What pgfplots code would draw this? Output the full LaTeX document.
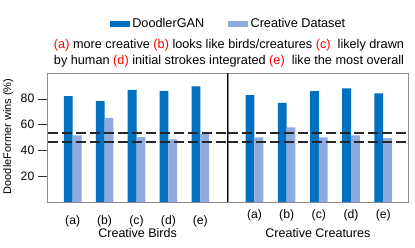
\documentclass[border=0pt]{standalone}
\usepackage{pgfplots}
\pgfplotsset{compat=1.18}
\usepackage{fontspec}
\setmainfont{Liberation Sans}
\definecolor{dg}{RGB}{0,112,192}
\definecolor{cd}{RGB}{143,170,220}
\definecolor{fr}{RGB}{140,140,140}
\begin{document}
\begin{tikzpicture}[font=\fontsize{12.5}{15}\selectfont]
\path[use as bounding box] (0,0) rectangle (415pt,248pt);
\pgfplotsset{
 base/.style={
  scale only axis, width=180.25pt, height=129pt,
  ymin=0, ymax=100,
  ybar=0pt, bar width=8.8pt,
  xtick={0,1,2,3,4}, xticklabels={(a),(b),(c),(d),(e)},
  axis line style={fr},
  x tick style={draw=none},
  /pgf/number format/assume math mode=true,
  tick label style={font=\fontsize{12.2}{14}\selectfont},
  xlabel style={font=\fontsize{12.5}{15}\selectfont, at={(axis description cs:0.5,0)}, anchor=center, yshift=-31pt},
 }
}
\begin{axis}[base, name=left, at={(47.5pt,46pt)}, anchor=south west,
  xmin=-0.79, xmax=4.86,
  ytick={20,40,60,80}, ytick pos=left, y tick style={black!80, line width=0.5pt},
  tick align=outside, major tick length=10pt,
  yticklabel style={inner sep=3pt},
  ylabel={DoodleFormer wins (\%)},
  ylabel style={font=\fontsize{11}{13}\selectfont, at={(axis description cs:0,0.5)}, anchor=center, yshift=39.2pt, xshift=1pt},
  xlabel={Creative Birds},
  legend columns=2,
  legend style={draw=none, fill=none, inner sep=0pt, outer sep=0pt,
    at={(axis description cs:0.3467,1.3798)}, anchor=west,
    font=\fontsize{12.7}{15}\selectfont,
    nodes={inner sep=0pt},
    /tikz/every odd column/.append style={column sep=2.3pt},
    /tikz/every even column/.append style={column sep=24pt}},
  legend image code/.code={\fill[#1,draw=none] (0pt,-2.85pt) rectangle (20pt,2.85pt);}]
\addplot[fill=dg, draw=none] coordinates {(0,82.1)(1,78.2)(2,87.0)(3,86.0)(4,89.7)};
\addplot[fill=cd, draw=none] coordinates {(0,51.6)(1,65.3)(2,50.3)(3,48.5)(4,52.6)};
\legend{DoodlerGAN, Creative Dataset}
\addplot[sharp plot, forget plot, black!85, line width=1.4pt, dash pattern=on 10pt off 4pt] coordinates {(-0.79,53.6)(4.86,53.6)};
\addplot[sharp plot, forget plot, black!85, line width=1.4pt, dash pattern=on 10pt off 4pt] coordinates {(-0.79,46.4)(4.86,46.4)};
\end{axis}
\begin{axis}[base, name=right, at={(left.south east)}, anchor=south west,
  xmin=-0.83, xmax=4.77, ytick=\empty,
  xlabel={Creative Creatures}]
\addplot[fill=dg, draw=none] coordinates {(0,82.9)(1,76.9)(2,86.0)(3,88.1)(4,84.2)};
\addplot[fill=cd, draw=none] coordinates {(0,50.0)(1,57.8)(2,50.0)(3,51.6)(4,49.5)};
\addplot[sharp plot, forget plot, black!85, line width=1.4pt, dash pattern=on 10pt off 4pt] coordinates {(-0.83,53.6)(4.77,53.6)};
\addplot[sharp plot, forget plot, black!85, line width=1.4pt, dash pattern=on 10pt off 4pt] coordinates {(-0.83,46.4)(4.77,46.4)};
\end{axis}
\draw[black, line width=0.6pt] (left.south east) -- (left.north east);
\node[anchor=center, font=\fontsize{12.7}{15}\selectfont] at (229pt,203pt) {\textcolor{red}{(a)} more creative \textcolor{red}{(b)} looks like birds/creatures \textcolor{red}{(c)}\ \ likely drawn};
\node[anchor=center, font=\fontsize{12.7}{15}\selectfont] at (229pt,187pt) {by human \textcolor{red}{(d)} initial strokes integrated \textcolor{red}{(e)}\ \ like the most overall};
\end{tikzpicture}
\end{document}
